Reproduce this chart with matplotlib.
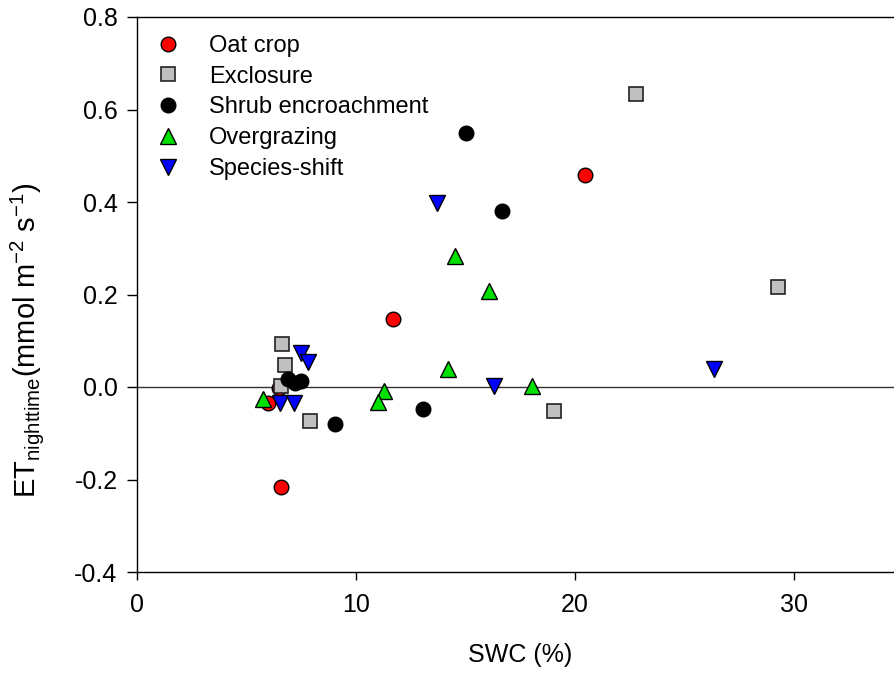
import matplotlib
matplotlib.use("Agg")
import matplotlib.pyplot as plt

plt.rcParams["font.family"] = ["Liberation Sans", "DejaVu Sans"]
plt.rcParams["mathtext.fontset"] = "custom"
plt.rcParams["mathtext.rm"] = "Liberation Sans"
plt.rcParams["mathtext.it"] = "Liberation Sans:italic"

# SWC (%) and nighttime ET (mmol m-2 s-1)
oat_x = [11.7, 20.45, 6.6, 5.98, 6.5]
oat_y = [0.147, 0.458, -0.217, -0.035, -0.002]

excl_x = [22.8, 29.3, 19.04, 6.62, 6.76, 6.58, 7.9]
excl_y = [0.634, 0.216, -0.052, 0.093, 0.048, 0.002, -0.073]

shrub_x = [15.02, 16.67, 13.06, 9.04, 6.9, 7.2, 7.5]
shrub_y = [0.549, 0.381, -0.047, -0.080, 0.018, 0.008, 0.012]

over_x = [14.52, 16.07, 14.2, 18.04, 11.28, 11.0, 5.76]
over_y = [0.283, 0.208, 0.038, 0.003, -0.009, -0.032, -0.025]

spec_x = [13.7, 16.3, 26.35, 7.49, 7.82, 6.53, 7.17]
spec_y = [0.397, 0.003, 0.040, 0.073, 0.055, -0.035, -0.035]

fig = plt.figure(figsize=(8.95, 6.74), dpi=100)
ax = fig.add_axes([137 / 895, 102 / 674, 766 / 895, 555 / 674])

ax.axhline(0, color="#333333", lw=1.0, zorder=1)

ax.plot(oat_x, oat_y, "o", ms=10.5, mfc="#ff0000", mec="black", mew=1, label="Oat crop")
ax.plot(excl_x, excl_y, "s", ms=9.8, mfc="#c0c0c0", mec="#222222", mew=1.2, label="Exclosure")
ax.plot(shrub_x, shrub_y, "o", ms=10.5, mfc="black", mec="black", mew=1, label="Shrub encroachment")
ax.plot(over_x, over_y, "^", ms=11, mfc="#00e000", mec="black", mew=1, label="Overgrazing")
ax.plot(spec_x, spec_y, "v", ms=11, mfc="#0000ff", mec="black", mew=1, label="Species-shift")

ax.set_xlim(0, 35)
ax.set_ylim(-0.4, 0.8)
ax.set_xticks([0, 10, 20, 30])
ax.set_yticks([-0.4, -0.2, 0.0, 0.2, 0.4, 0.6, 0.8])
ax.set_yticklabels(["-0.4", "-0.2", "0.0", "0.2", "0.4", "0.6", "0.8"])
ax.spines["right"].set_visible(False)
for s in ["left", "bottom", "top"]:
    ax.spines[s].set_linewidth(1.0)
ax.tick_params(axis="y", direction="out", length=7, width=1, labelsize=18, pad=7)
ax.tick_params(axis="x", direction="out", length=6, width=1, labelsize=18, pad=9)

ax.set_xlabel("SWC (%)", fontsize=18, labelpad=19)
ax.set_ylabel(r"ET$_{\mathrm{nighttime}}$(mmol m$^{-2}$ s$^{-1}$)", fontsize=21)
ax.yaxis.set_label_coords(-0.119, 0.418)

ax.legend(loc="upper left", bbox_to_anchor=(150 / 895, 1 - 35 / 674),
          bbox_transform=fig.transFigure, frameon=False, fontsize=17,
          numpoints=1, handletextpad=1.0, labelspacing=0.37, borderaxespad=0,
          borderpad=0, handlelength=1.5)

fig.savefig("out.png", dpi=100)
